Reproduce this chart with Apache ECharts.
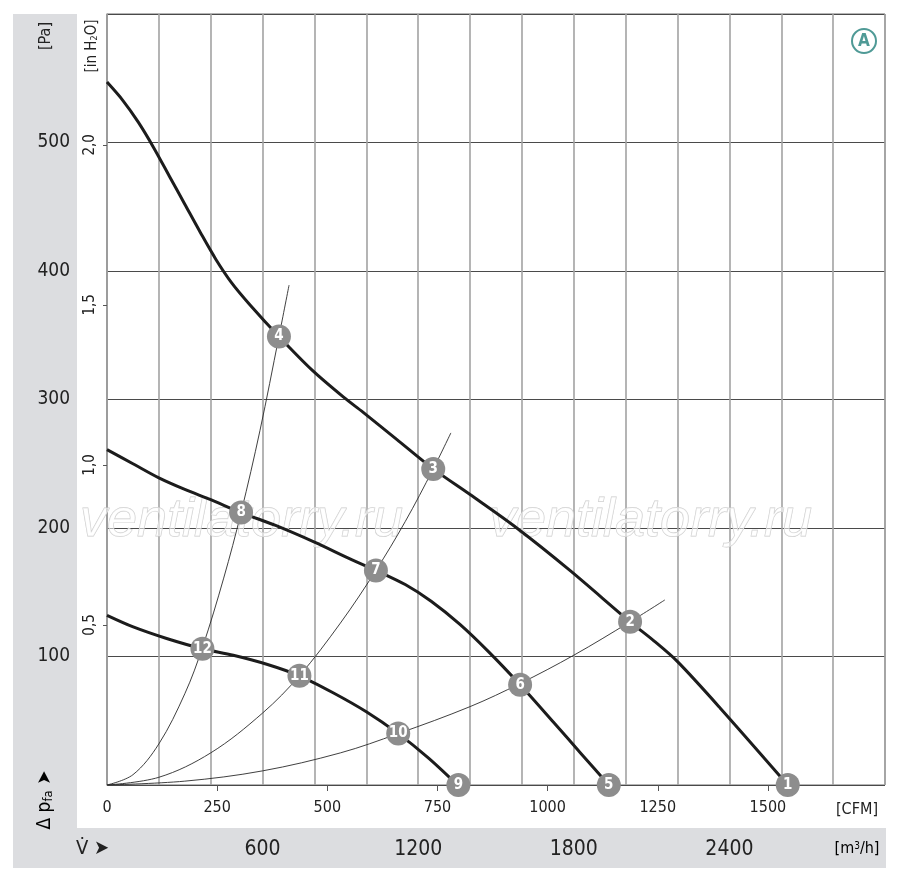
<!DOCTYPE html>
<html>
<head>
<meta charset="utf-8">
<script src="https://cdn.jsdelivr.net/npm/echarts@6/dist/echarts.min.js"></script>
<style>
html,body{margin:0;padding:0;background:#fff;}
#chart{width:900px;height:880px;}
</style>
</head>
<body>
<div id="chart"></div>
<script>
// ---- data (x: m³/h, y: Pa) ----
const curve1 = [[0,547],[60,533],[120,516],[180,496],[240,474],[300,452],[360,430],[420,409],[480,391],[550,374],[663,349],[790,323],[911,302],[988,290],[1117,269],[1258,246],[1400,226],[1580,200],[1785,167],[2017,127],[2110,112],[2200,96],[2364,60],[2625,0]];
const curve2 = [[0,261],[100,250],[200,239],[300,230],[400,222],[517,212],[650,202],[800,189],[937,176],[1037,167],[1150,156],[1250,143],[1361,125],[1470,104],[1593,78],[1721,49],[1830,24],[1935,0]];
const curve3 = [[0,132],[101,123],[230,114],[368,106],[487,101],[616,94],[742,85],[870,72],[1000,57],[1123,40],[1240,21],[1352,0]];
const system1 = [[0,0],[100,8],[200,32],[300,71],[368,107],[450,161],[517,212],[590,276],[663,349],[702,389]];
const system2 = [[0,0],[200,6],[400,25],[600,56],[742,85],[900,126],[1037,167],[1150,205],[1258,246],[1326,274]];
const system3 = [[0,0],[300,3],[600,11],[900,25],[1123,40],[1400,61],[1593,79],[1800,101],[2017,127],[2151,144]];
const points = [[2625,0,'1'],[2017,127,'2'],[1258,246,'3'],[663,349,'4'],[1935,0,'5'],[1593,78,'6'],[1037,167,'7'],[517,212,'8'],[1355,0,'9'],[1123,40,'10'],[742,85,'11'],[368,106,'12']];
const m3hTicks = [600,1200,1800,2400];
const cfmTicks = [0,250,500,750,1000,1250,1500];
const paTicks = [100,200,300,400,500];
const inchTicks = [0.5,1.0,1.5,2.0];

const M3H_MAX = 3000, PA_MAX = 600;
const CFM_MAX = M3H_MAX / 1.69901;
const INCH_MAX = PA_MAX / 249.089;
const NARROW = "'Liberation Sans Narrow','DejaVu Sans Condensed','Roboto Condensed',sans-serif";

const chart = echarts.init(document.getElementById('chart'), null, {renderer:'canvas'});

function fanLine(data){
  return {type:'line', xAxisIndex:0, yAxisIndex:0, data:data, smooth:0.3, showSymbol:false, symbol:'none',
    lineStyle:{color:'#1c1c1c', width:3}, z:4, silent:true};
}
function sysLine(data){
  return {type:'line', xAxisIndex:0, yAxisIndex:0, data:data, smooth:0.35, showSymbol:false, symbol:'none',
    lineStyle:{color:'#2a2a2a', width:0.9}, z:3, silent:true};
}
const plain = function(v){ return String(Math.round(v)); };

const option = {
  animation:false,
  backgroundColor:'#fff',
  grid:{left:107, top:14, width:778, height:771, show:true, borderColor:'#6a6a6a', borderWidth:1, backgroundColor:'transparent', containLabel:false},
  xAxis:[
    {type:'value', min:0, max:M3H_MAX, interval:200, position:'bottom',
     axisLine:{show:false, onZero:false}, axisTick:{show:false},
     splitLine:{show:true, lineStyle:{color:'#a2a2a2', width:1.6}},
     axisLabel:{show:true, customValues:m3hTicks, formatter:plain, margin:54, fontSize:21, color:'#222', fontFamily:NARROW}},
    {type:'value', min:0, max:CFM_MAX, interval:250, position:'bottom',
     axisLine:{show:false, onZero:false},
     axisTick:{show:true, customValues:cfmTicks.filter(v=>v>0), length:6, inside:false, lineStyle:{color:'#555', width:1}},
     splitLine:{show:false},
     axisLabel:{show:true, customValues:cfmTicks, formatter:plain, margin:15, fontSize:16, color:'#222', fontFamily:NARROW}}
  ],
  yAxis:[
    {type:'value', min:0, max:PA_MAX, interval:100, position:'left',
     axisLine:{show:true, lineStyle:{color:'#9a9a9a', width:1.5}}, axisTick:{show:false},
     splitLine:{show:true, lineStyle:{color:'#4a4a4a', width:1}},
     axisLabel:{show:true, customValues:paTicks, formatter:plain, margin:37, fontSize:19, color:'#222', fontFamily:NARROW}},
    {type:'value', min:0, max:INCH_MAX, interval:0.5, position:'left',
     axisLine:{show:false},
     axisTick:{show:true, customValues:inchTicks, length:4, lineStyle:{color:'#555'}},
     splitLine:{show:false},
     axisLabel:{show:true, customValues:inchTicks, rotate:90, margin:9, fontSize:15, color:'#222', fontFamily:NARROW,
       formatter:function(v){return Number(v).toFixed(1).replace('.',',');}}}
  ],
  graphic:[
    {type:'rect', shape:{x:13, y:14, width:64, height:854}, style:{fill:'#dcdde0'}, z:0, silent:true},
    {type:'rect', shape:{x:13, y:828, width:873, height:40}, style:{fill:'#dcdde0'}, z:0, silent:true},
    {type:'text', x:80, y:521, z:1, silent:true,
     style:{text:'ventilatorry.ru', font:'italic 54px "Liberation Sans", Arial, sans-serif', fill:'rgba(255,255,255,0.55)', stroke:'#cacaca', lineWidth:0.9, verticalAlign:'middle', align:'left'}},
    {type:'text', x:489, y:521, z:1, silent:true,
     style:{text:'ventilatorry.ru', font:'italic 54px "Liberation Sans", Arial, sans-serif', fill:'rgba(255,255,255,0.55)', stroke:'#cacaca', lineWidth:0.9, verticalAlign:'middle', align:'left'}},
    {type:'circle', shape:{cx:864, cy:41, r:12}, style:{fill:'#fff', stroke:'#4f9a96', lineWidth:2}, z:5, silent:true},
    {type:'text', x:864, y:42, z:6, silent:true,
     style:{text:'A', font:'bold 17px '+NARROW, fill:'#4f9a96', align:'center', verticalAlign:'middle'}},
    {type:'text', x:46, y:36, rotation:Math.PI/2, z:6, silent:true,
     style:{text:'[Pa]', font:'16px '+NARROW, fill:'#222', align:'center', verticalAlign:'middle'}},
    {type:'text', x:92, y:46, rotation:Math.PI/2, z:6, silent:true,
     style:{text:'{a|[in H}{s|2}{a|O]}', align:'center', verticalAlign:'middle',
       rich:{a:{fontSize:15, fontFamily:NARROW, fill:'#222', color:'#222'}, s:{fontSize:9, fontFamily:NARROW, color:'#222', fill:'#222', verticalAlign:'bottom', padding:[6,0,0,0]}}}},
    {type:'text', x:45, y:800, rotation:Math.PI/2, z:6, silent:true,
     style:{text:'{a|Δ p}{s|fa}{a| ➤}', align:'center', verticalAlign:'middle',
       rich:{a:{fontSize:19, fontFamily:"'DejaVu Sans Condensed','Liberation Sans Narrow',sans-serif", color:'#222'}, s:{fontSize:13, fontFamily:NARROW, color:'#222', verticalAlign:'bottom', padding:[8,0,0,0]}}}},
    {type:'text', x:76, y:849, z:6, silent:true,
     style:{text:'V\u0307 ➤', font:'20px "DejaVu Sans Condensed", sans-serif', fill:'#222', align:'left', verticalAlign:'middle'}},
    {type:'text', x:857, y:810, z:6, silent:true,
     style:{text:'[CFM]', font:'16px '+NARROW, fill:'#222', align:'center', verticalAlign:'middle'}},
    {type:'text', x:857, y:849, z:6, silent:true,
     style:{text:'{a|[m}{s|3}{a|/h]}', align:'center', verticalAlign:'middle',
       rich:{a:{fontSize:16, fontFamily:NARROW, color:'#222'}, s:{fontSize:10, fontFamily:NARROW, color:'#222', verticalAlign:'top', padding:[0,0,6,0]}}}}
  ],
  series:[
    sysLine(system1), sysLine(system2), sysLine(system3),
    fanLine(curve1), fanLine(curve2), fanLine(curve3),
    {type:'scatter', xAxisIndex:0, yAxisIndex:0, data:points, symbol:'circle', symbolSize:24, z:10, silent:true,
     itemStyle:{color:'#8d8d8d', opacity:1},
     label:{show:true, position:'inside', formatter:function(p){return p.data[2];}, color:'#fff', fontWeight:'bold', fontSize:15, fontFamily:NARROW}}
  ]
};
chart.setOption(option);
</script>
</body>
</html>
